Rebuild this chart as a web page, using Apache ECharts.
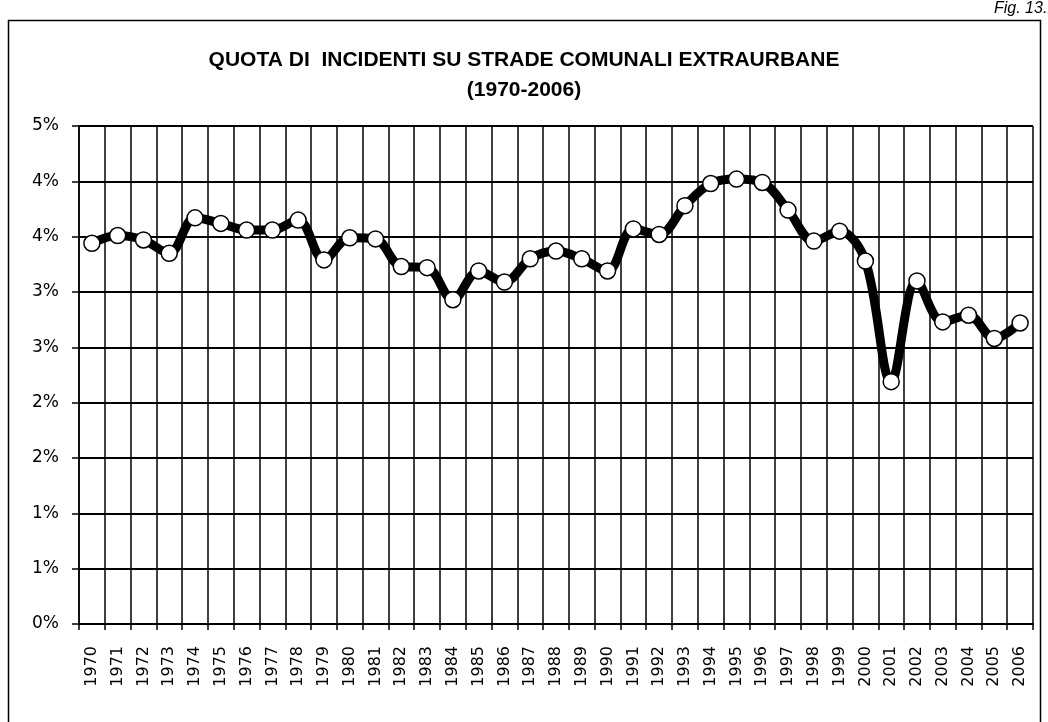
<!DOCTYPE html>
<html>
<head>
<meta charset="utf-8">
<script src="https://cdn.jsdelivr.net/npm/echarts@6/dist/echarts.min.js"></script>
<style>
	html, body { margin: 0; padding: 0; background: #fff; }
	#chart { width: 1048px; height: 722px; }
</style>
</head>
<body>
<div id="chart"></div>
<script>
	/* anni e quota (%) */
	var years = ['1970', '1971', '1972', '1973', '1974', '1975', '1976', '1977', '1978', '1979',
		'1980', '1981', '1982', '1983', '1984', '1985', '1986', '1987', '1988', '1989',
		'1990', '1991', '1992', '1993', '1994', '1995', '1996', '1997', '1998', '1999',
		'2000', '2001', '2002', '2003', '2004', '2005', '2006'];
	var quota = [3.44, 3.51, 3.47, 3.35, 3.67, 3.62, 3.56, 3.56, 3.65, 3.29,
		3.49, 3.48, 3.23, 3.22, 2.93, 3.19, 3.09, 3.30, 3.37, 3.30,
		3.19, 3.57, 3.52, 3.78, 3.98, 4.02, 3.99, 3.74, 3.46, 3.55,
		3.28, 2.19, 3.10, 2.73, 2.79, 2.58, 2.72];

	var font = 'DejaVu Sans';

	var option = {
		backgroundColor: '#fff',
		animation: false,
		title: {
			text: 'QUOTA DI  INCIDENTI SU STRADE COMUNALI EXTRAURBANE\n(1970-2006)',
			left: 'center',
			top: 40,
			textStyle: {
				fontFamily: 'Liberation Sans',
				fontWeight: 'bold',
				fontSize: 21,
				lineHeight: 30,
				color: '#000'
			}
		},
		graphic: [{
			type: 'rect',
			shape: { x: 8.5, y: 20.5, width: 1032, height: 720 },
			style: { fill: null, stroke: '#000', lineWidth: 1.5 }
		}, {
			type: 'text',
			left: 994,
			top: 1,
			style: {
				text: 'Fig. 13.1',
				font: 'italic 16px Liberation Sans',
				fill: '#000'
			}
		}],
		grid: {
			left: 79,
			right: 15,
			top: 126,
			bottom: 98
		},
		xAxis: {
			type: 'category',
			data: years,
			boundaryGap: true,
			axisLine: { lineStyle: { color: '#000', width: 2 } },
			axisTick: { show: true, length: 6, lineStyle: { color: '#000', width: 1.5 } },
			axisLabel: {
				rotate: 90,
				interval: 0,
				margin: 22,
				fontFamily: font,
				fontSize: 16,
				color: '#000'
			},
			splitLine: { show: true, lineStyle: { color: '#000', width: 1.5 } }
		},
		yAxis: {
			type: 'value',
			min: 0,
			max: 4.5,
			interval: 0.5,
			axisLine: { show: true, lineStyle: { color: '#000', width: 1.5 } },
			axisTick: { show: true, length: 7, lineStyle: { color: '#000', width: 1.5 } },
			axisLabel: {
				margin: 20,
				fontFamily: font,
				fontSize: 17,
				color: '#000',
				formatter: function(v) {
					return Math.round(v) + '%';
				}
			},
			splitLine: { show: true, lineStyle: { color: '#000', width: 2 } }
		},
		series: [{
			name: 'quota',
			type: 'line',
			data: quota,
			smooth: 0.35,
			symbol: 'circle',
			symbolSize: 16,
			lineStyle: { color: '#000', width: 9 },
			itemStyle: { color: '#fff', borderColor: '#000', borderWidth: 1.5 },
			z: 5
		}]
	};

	var chart = echarts.init(document.getElementById('chart'));
	chart.setOption(option);
</script>
</body>
</html>
